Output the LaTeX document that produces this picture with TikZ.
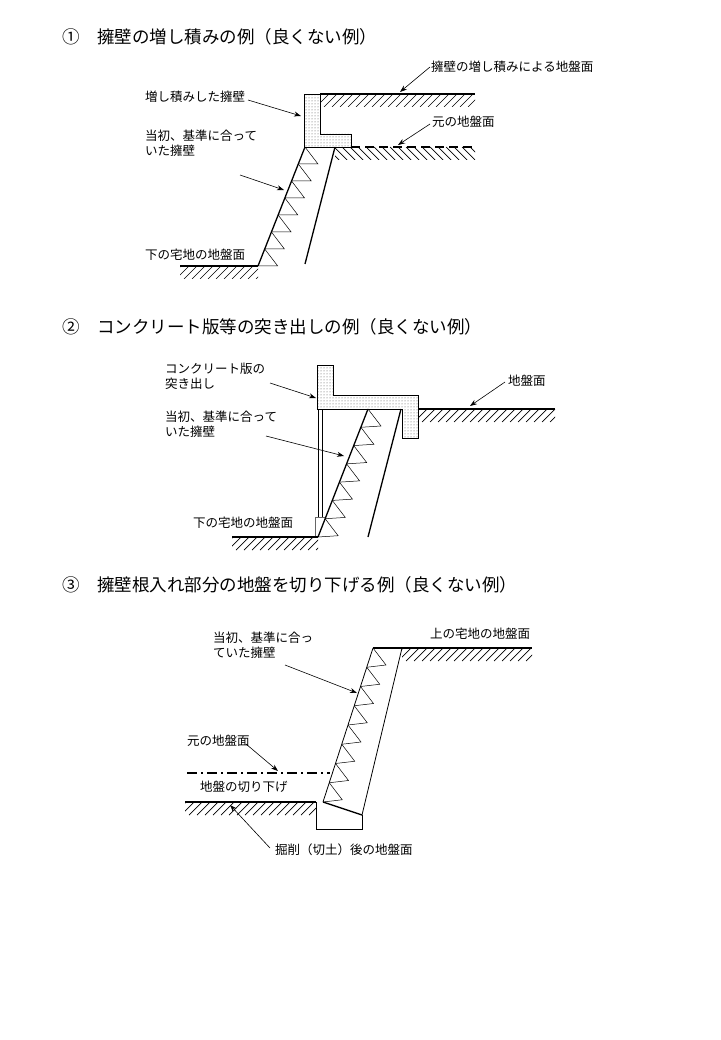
\documentclass[tikz,border=0pt]{standalone}
\usepackage{fontspec}
\setmainfont{Noto Sans CJK JP}
\usetikzlibrary{calc,patterns,arrows.meta}
\tikzset{
  lbl/.style={anchor=west,inner sep=0pt,yshift=-5pt,font=\fontsize{12.5}{15}\selectfont,align=left},
  ttl/.style={anchor=west,inner sep=0pt,font=\fontsize{17.5}{20}\selectfont},
  ptr/.style={-{Stealth[length=7pt,width=5pt]},line width=0.6pt},
  gnd/.style={line width=1.6pt},
  wall/.style={line width=1.3pt},
  slab/.style={draw,line width=0.8pt,pattern=dots,pattern color=black!70}
}
% hatch below a ground line: {x1}{x2}{y}{slope}
\newcommand{\hatchbelow}[4]{%
  \pgfmathtruncatemacro{\hs}{#1-20}%
  \pgfmathtruncatemacro{\ht}{#1-12}%
  \pgfmathtruncatemacro{\he}{#2+20}%
  \begin{scope}
    \clip (#1,#3) rectangle (#2,#3+13);
    \foreach \hx in {\hs,\ht,...,\he}
      \draw[line width=0.7pt] (\hx,#3+13) -- ++(#4*13,-13);
  \end{scope}}
% weep holes along a wall face
\newcommand{\weeps}[3]{%
  \foreach \k in {1,...,#3}{
    \draw[line width=0.5pt] ($(#1)!{(\k-1)/#3}!(#2)$) -- ++(13,17) -- ($(#1)!{\k/#3}!(#2)$);}}
\begin{document}
\begin{tikzpicture}[x=1pt,y=-1pt]
\useasboundingbox (0,0) rectangle (720,1040);
% ---------- 1 ----------
\node[ttl] (t1) at (62,37) {①　擁壁の増し積みの例（良くない例）};
\coordinate (a1) at (305,147); \coordinate (b1) at (258,266);
\coordinate (c1) at (335,147); \coordinate (d1) at (305,264);
\weeps{a1}{b1}{7}
\draw[wall] (a1) -- (b1);
\draw[wall] (c1) -- (d1);
\draw[slab] (304,94) -- (320,94) -- (320,134) -- (351,134) -- (351,147) -- (304,147) -- cycle;
\draw[gnd] (320,94) -- (475,94);
\hatchbelow{320}{475}{94}{1}
\draw[gnd,dash pattern=on 9pt off 5pt] (351,147) -- (475,147);
\draw[line width=0.7pt] (335,147) -- (351,147);
\hatchbelow{335}{475}{147}{-1}
\draw[gnd] (180,266) -- (b1);
\hatchbelow{180}{258}{266}{1}
\node[lbl] (l1a) at (145,97) {増し積みした擁壁};
\node[lbl] (l1b) at (145,151) {当初、基準に合って\\いた擁壁};
\node[lbl] (l1c) at (145,255) {下の宅地の地盤面};
\node[lbl] (l1d) at (431,67) {擁壁の増し積みによる地盤面};
\node[lbl] (l1e) at (432,122) {元の地盤面};
\coordinate (p1a) at (301,116); \coordinate (p1b) at (284,190);
\coordinate (p1d) at (400,92); \coordinate (p1e) at (398,145);
\draw[ptr] (248,100) -- (p1a);
\draw[ptr] (240,175) -- (p1b);
\draw[ptr] (430,67) -- (p1d);
\draw[ptr] (430,124) -- (p1e);
% ---------- 2 ----------
\node[ttl] (t2) at (62,334) {②　コンクリート版等の突き出しの例（良くない例）};
\coordinate (a2) at (368,409); \coordinate (b2) at (318,537);
\coordinate (c2) at (401,409); \coordinate (d2) at (368,537);
\draw[line width=0.6pt] (318,409) -- (318,517) (322,409) -- (322,517);
\draw[line width=0.6pt,black!60] (315,537) -- (315,517) -- (326,517);
\weeps{a2}{b2}{7}
\draw[wall] (a2) -- (b2);
\draw[wall] (c2) -- (d2);
\draw[slab] (317,365) -- (333,365) -- (333,395) -- (418,395) -- (418,438) -- (402,438) -- (402,409) -- (317,409) -- cycle;
\draw[gnd] (418,409) -- (555,409);
\hatchbelow{418}{555}{409}{1}
\draw[gnd] (232,537) -- (b2);
\hatchbelow{232}{318}{537}{1}
\node[lbl] (l2a) at (165,384) {コンクリート版の\\突き出し};
\node[lbl] (l2b) at (165,432) {当初、基準に合って\\いた擁壁};
\node[lbl] (l2c) at (193,523) {下の宅地の地盤面};
\node[lbl] (l2d) at (508,381) {地盤面};
\coordinate (p2a) at (316,398); \coordinate (p2b) at (344,456); \coordinate (p2d) at (470,406);
\draw[ptr] (270,383) -- (p2a);
\draw[ptr] (266,436) -- (p2b);
\draw[ptr] (505,382) -- (p2d);
% ---------- 3 ----------
\node[ttl] (t3) at (62,592) {③　擁壁根入れ部分の地盤を切り下げる例（良くない例）};
\coordinate (a3) at (373,648); \coordinate (b3) at (323,802);
\coordinate (c3) at (402,648); \coordinate (d3) at (362,815);
\weeps{a3}{b3}{8}
\draw[line width=0.8pt] (a3) -- (b3);
\draw[line width=0.8pt] (c3) -- (d3);
\draw[line width=0.8pt] (316,802) -- (316,829) -- (362,829) -- (d3);
\draw[wall] (b3) -- (d3);
\draw[gnd] (a3) -- (532,648);
\hatchbelow{402}{532}{648}{1}
\draw[gnd] (185,802) -- (316,802);
\hatchbelow{185}{316}{802}{1}
\draw[gnd,dash pattern=on 10pt off 4pt on 2pt off 4pt] (187,773) -- (330,773);
\node[lbl] (l3a) at (430,634) {上の宅地の地盤面};
\node[lbl] (l3b) at (213,653) {当初、基準に合っ\\ていた擁壁};
\node[lbl] (l3c) at (187,741) {元の地盤面};
\node[lbl] (l3d) at (200,787) {地盤の切り下げ};
\node[lbl] (l3e) at (275,850) {掘削（切土）後の地盤面};
\coordinate (p3b) at (357,693); \coordinate (p3c) at (278,771); \coordinate (p3e) at (230,805);
\draw[ptr] (285,665) -- (p3b);
\draw[ptr] (246,744) -- (p3c);
\draw[ptr] (270,848) -- (p3e);
\end{tikzpicture}
\end{document}
